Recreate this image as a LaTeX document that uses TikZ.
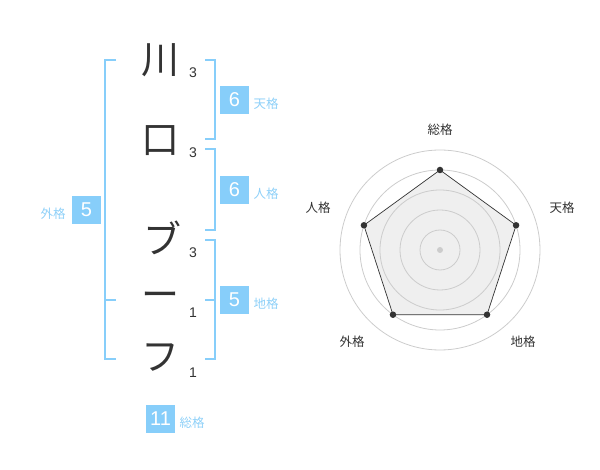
\documentclass[tikz,border=0pt]{standalone}
\usepackage{fontspec}
\usetikzlibrary{calc}
\setmainfont{Noto Sans CJK JP}
\newfontfamily\digitfont{Liberation Sans}
\definecolor{kblue}{HTML}{87CEFA}
\definecolor{klabel}{HTML}{8ED0F8}
\definecolor{kdark}{HTML}{333333}
\definecolor{kgrid}{HTML}{CCCCCC}
\definecolor{kfill}{HTML}{EFEFEF}
\tikzset{
  kchar/.style={inner sep=0pt, anchor=center, font=\fontsize{38}{38}\selectfont, text=kdark},
  kstroke/.style={inner sep=0pt, anchor=center, font=\digitfont\fontsize{14}{14}\selectfont, text=kdark},
  kbox/.style={fill=kblue, minimum width=28.5pt, minimum height=28.5pt, inner sep=0pt, text=white, font=\digitfont\fontsize{20}{20}\selectfont},
  klab/.style={inner sep=0pt, anchor=center, font=\fontsize{12.5}{12.5}\selectfont, text=klabel},
  kbracket/.style={draw=kblue, line width=2pt},
  kring/.style={draw=kgrid, line width=0.8pt},
  rlab/.style={inner sep=0pt, anchor=center, font=\fontsize{12.5}{12.5}\selectfont, text=kdark},
  rdot/.style={circle, fill=kdark, inner sep=0pt, minimum size=6.5pt},
}
\begin{document}
\begin{tikzpicture}[x=1pt,y=-1pt]
\useasboundingbox (0,0) rectangle (600,470);
% characters
\node[kchar] (c1) at (160,60) {川};
\node[kchar] (c2) at (160,141) {口};
\node[kchar] (c3) at (162,238) {ブ};
\node[kchar] (c4) at (160,300) {ー};
\node[kchar] (c5) at (160,358) {フ};
% stroke counts
\node[kstroke] (s1) at (193,73) {3};
\node[kstroke] (s2) at (193,153) {3};
\node[kstroke] (s3) at (193,253) {3};
\node[kstroke] (s4) at (193,313) {1};
\node[kstroke] (s5) at (193,373) {1};
% right brackets
\draw[kbracket] (205,60) -- (215,60) -- (215,139.5) -- (205,139.5);
\draw[kbracket] (205,149.5) -- (215,149.5) -- (215,230) -- (205,230);
\draw[kbracket] (205,240) -- (215,240) -- (215,359.5) -- (205,359.5);
\draw[kbracket] (205,300) -- (215,300);
% left bracket
\draw[kbracket] (116,60) -- (105,60) -- (105,359.5) -- (116,359.5);
\draw[kbracket] (105,300) -- (116,300);
% boxes and labels
\node[kbox] (ten) at (234.5,100) {6};
\node[klab] (tenl) at (266,104) {天格};
\node[kbox] (jin) at (234.5,190) {6};
\node[klab] (jinl) at (266,194) {人格};
\node[kbox] (chi) at (234.5,300) {5};
\node[klab] (chil) at (266,304) {地格};
\node[kbox] (gai) at (86.5,210) {5};
\node[klab] (gail) at (53,214) {外格};
\node[kbox] (sou) at (160.5,419) {11};
\node[klab] (soul) at (192,423) {総格};
% radar
\coordinate (rc) at (440,250);
\coordinate (v1) at ($(rc)+(-90:80)$);
\coordinate (v2) at ($(rc)+(-18:80)$);
\coordinate (v3) at ($(rc)+(54:80)$);
\coordinate (v4) at ($(rc)+(126:80)$);
\coordinate (v5) at ($(rc)+(198:80)$);
\fill[kfill] (v1) -- (v2) -- (v3) -- (v4) -- (v5) -- cycle;
\foreach \r in {20,40,60,80,100} \draw[kring] (rc) circle (\r);
\draw[kdark, line width=0.7pt] (v1) -- (v2) -- (v3) -- (v4) -- (v5) -- cycle;
\node[circle, fill=kgrid, inner sep=0pt, minimum size=6pt] (center) at (rc) {};
\node[rdot] (p1) at (v1) {};
\node[rdot] (p2) at (v2) {};
\node[rdot] (p3) at (v3) {};
\node[rdot] (p4) at (v4) {};
\node[rdot] (p5) at (v5) {};
\node[rlab] (r1) at (440,130) {総格};
\node[rlab] (r2) at (562,208) {天格};
\node[rlab] (r3) at (523,342) {地格};
\node[rlab] (r4) at (352,342) {外格};
\node[rlab] (r5) at (318,208) {人格};
\end{tikzpicture}
\end{document}
